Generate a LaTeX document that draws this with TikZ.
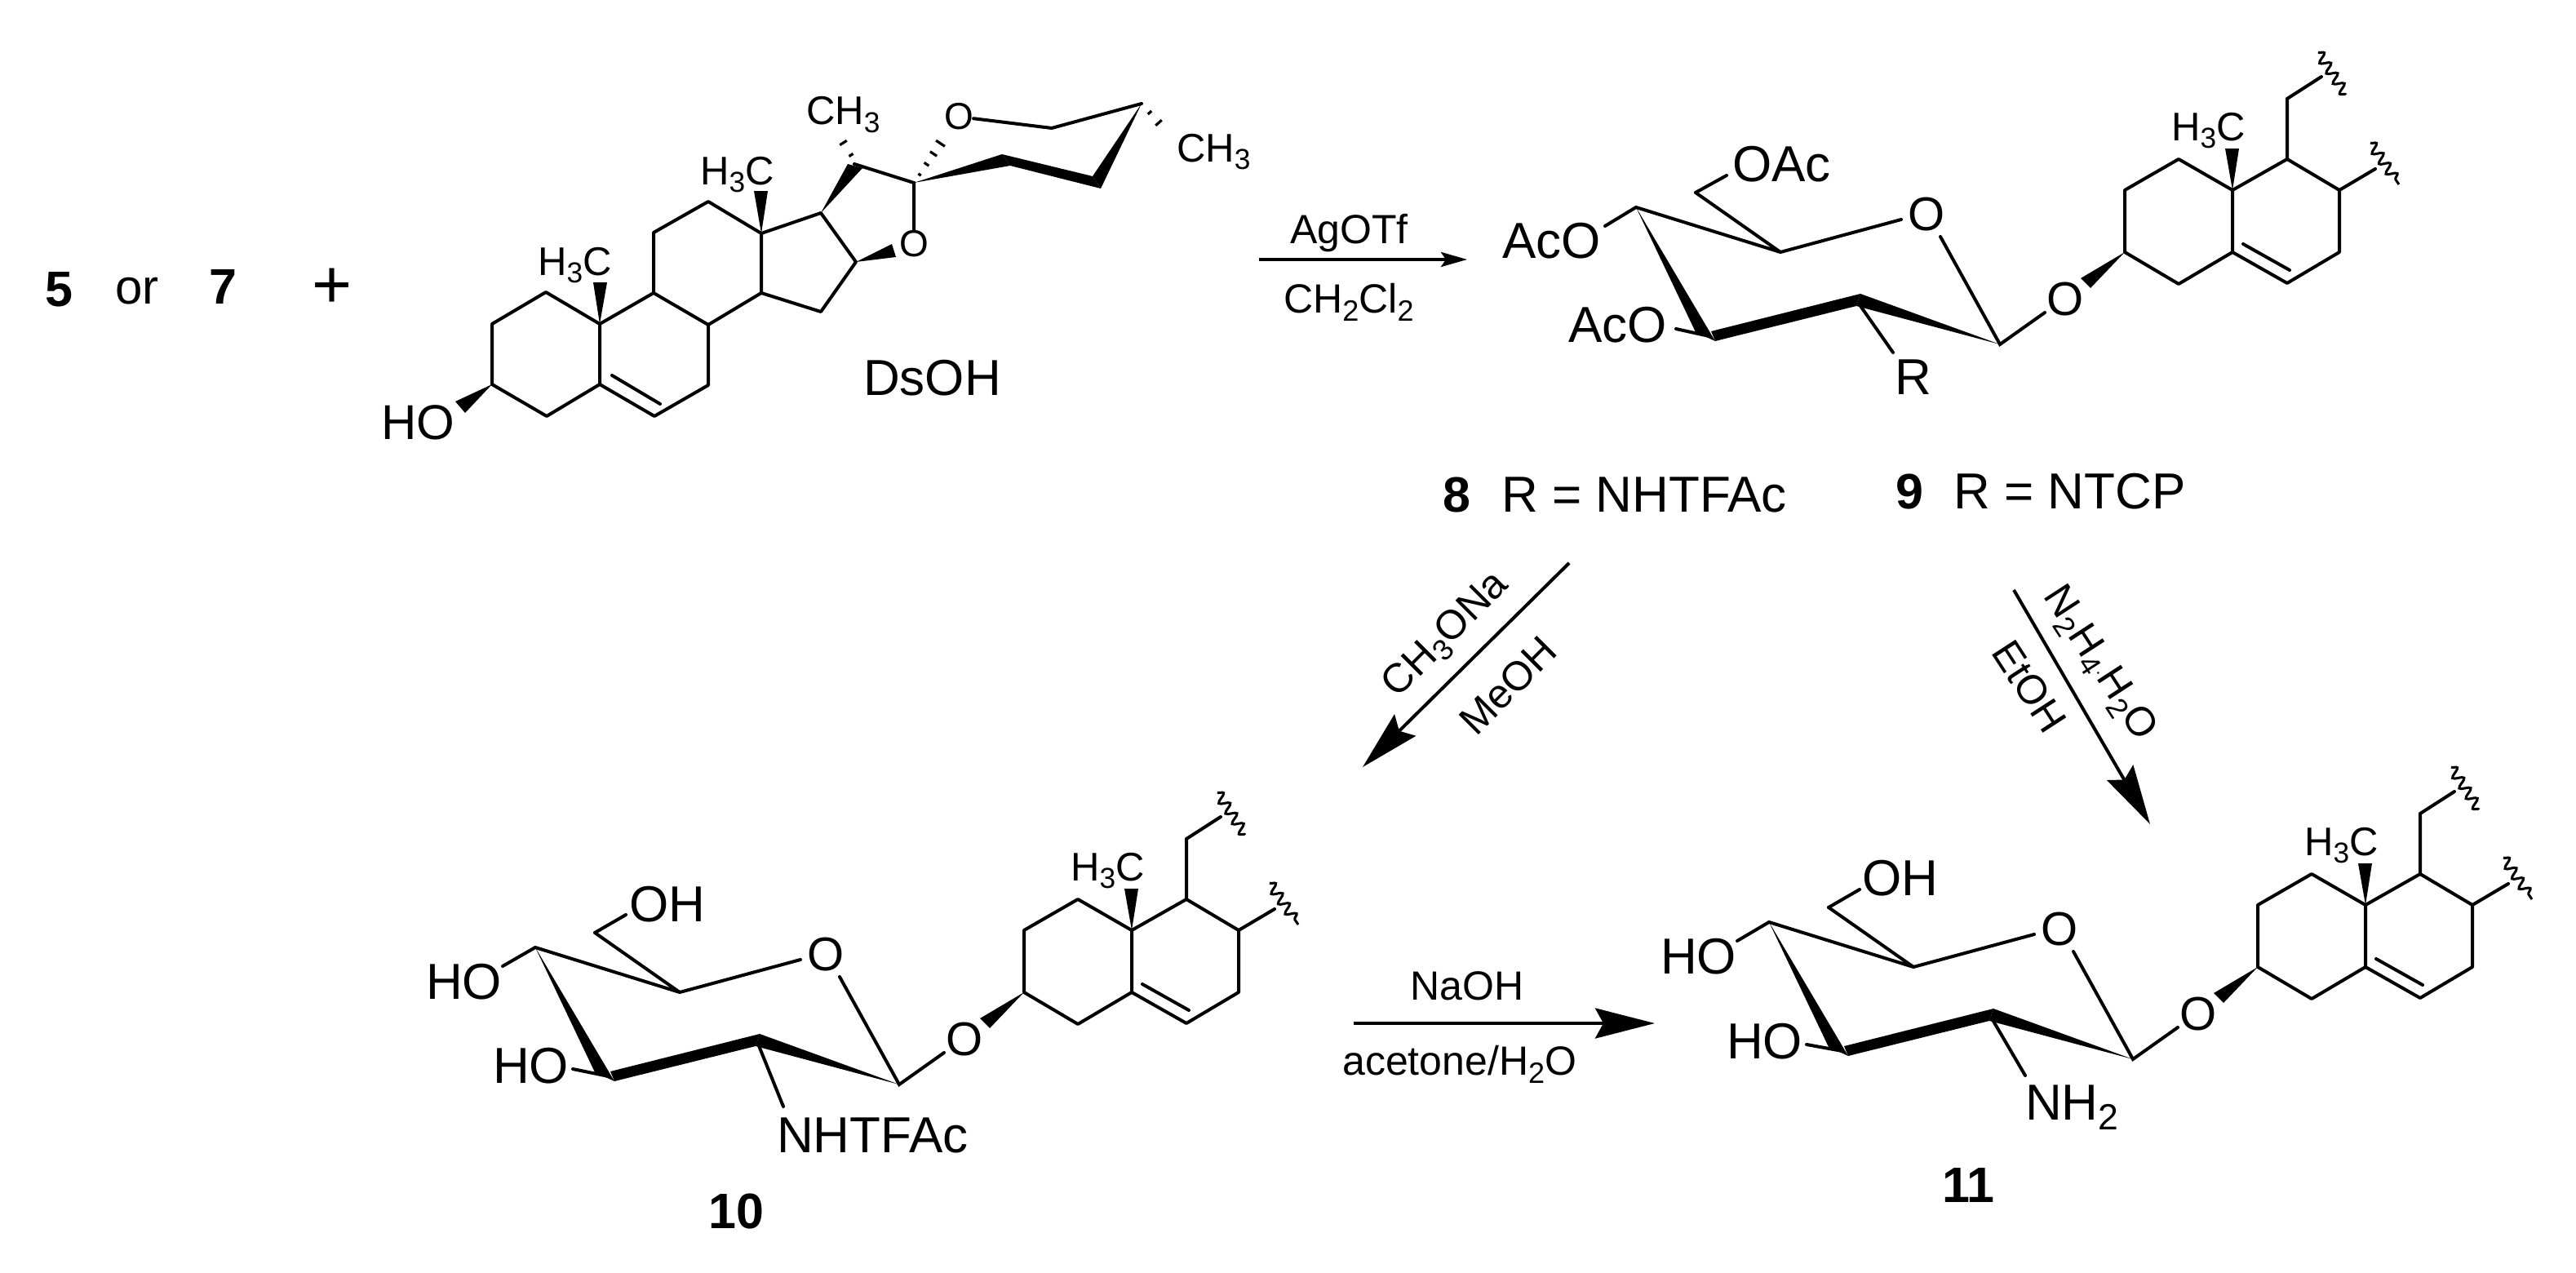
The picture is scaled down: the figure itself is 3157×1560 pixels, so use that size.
\documentclass[tikz,border=0pt]{standalone}
\usepackage{fontspec}
\setmainfont{Liberation Sans}
\usetikzlibrary{calc,arrows.meta,decorations.pathmorphing}
\newcommand\fsz[1]{\fontsize{#1}{#1}\selectfont}
\newcommand\sbt[1]{\raisebox{-.2em}{\scalebox{.72}{#1}}}
\tikzset{
  bond/.style={line width=4pt,line join=miter,line cap=round},
  hashb/.style={line width=3.2pt},
  wav/.style={line width=3pt,decorate,decoration={snake,segment length=15pt,amplitude=6pt}},
  atomlab/.style={font=\fsz{58},inner sep=0pt,anchor=center},
  txt/.style={font=\fsz{62},inner sep=0pt,anchor=base west},
  cnum/.style={font=\fsz{61}\bfseries,inner sep=0pt,anchor=base west},
  mel/.style={font=\fsz{49},inner sep=0pt,anchor=base west},
  reag/.style={font=\fsz{50},inner sep=0pt,anchor=base west},
  rreag/.style={font=\fsz{50},inner sep=0pt,anchor=center},
  rxn/.style={line width=4pt,-{Stealth[length=73pt,width=37pt,inset=10pt]}},
  rxnsmall/.style={line width=4pt,-{Stealth[length=32pt,width=18pt,inset=6pt]}}
}
% hashed wedge from a (narrow) to b (wide), list of fraction/half-width
\newcommand\hashw[3]{\foreach \t/\w in {#3}{\draw[hashb] ($(#1)!\t!(#2)!\w pt!90:(#2)$) -- ($(#1)!\t!(#2)!\w pt!-90:(#2)$);}}
% common sugar + steroid fragment, origin at sugar C4
\newcommand\glycoside[3]{%
\begin{scope}[shift={(#2,#3)},name prefix=#1-]
  \coordinate (c4) at (0,0); \coordinate (c5) at (177,55); \coordinate (c6) at (73,-18);
  \coordinate (c1) at (446,168); \coordinate (c2) at (273,118); \coordinate (c3) at (90,158);
  \coordinate (oa) at (325,15); \coordinate (ob) at (373,36); \coordinate (og) at (501,129);
  \coordinate (s3) at (599,55); \coordinate (s2) at (599,-21); \coordinate (s1) at (665,-59);
  \coordinate (s10) at (731,-21); \coordinate (s5) at (731,55); \coordinate (s4) at (665,94);
  \coordinate (s6) at (798,93); \coordinate (s7) at (862,55); \coordinate (s8) at (862,-21);
  \coordinate (s9) at (798,-59); \coordinate (ch) at (798,-133); \coordinate (che) at (840,-160);
  \coordinate (sd) at (906,-47); \coordinate (da) at (744,45); \coordinate (db) at (801,77);
  \coordinate (wa) at (836,-190); \coordinate (wb) at (870,-138);
  \coordinate (wc) at (900,-79); \coordinate (wd) at (935,-28);
  \node[atomlab] (oring) at (356,9) {O};
  \node[atomlab] (oglyc) at (526,113) {O};
  \node[mel] (me) at (656,-82) {H\sbt{3}C};
  \draw[bond] (c6) -- (c5) (c4) -- (c5) -- (oa);
  \draw[bond] (ob) -- (c1) -- (og);
  \fill (c4) -- (73,153) -- (97,164) -- cycle;
  \fill (97,164) -- (270,121) -- (275,106) -- (92,152) -- cycle;
  \fill (275,106) -- (270,121) -- (c1) -- cycle;
  \fill (s3) -- (545,87) -- (557,99) -- cycle;
  \draw[bond,line join=round] (s3) -- (s2) -- (s1) -- (s10) -- (s5) -- (s4) -- cycle;
  \draw[bond,line join=round] (s5) -- (s6) -- (s7) -- (s8) -- (s9) -- (s10);
  \draw[bond] (s9) -- (ch) -- (che) (s8) -- (sd) (da) -- (db);
  \fill (s10) -- (722,-72) -- (739,-72) -- cycle;
  \draw[wav] (wa) -- (wb);
  \draw[wav] (wc) -- (wd);
\end{scope}}
\begin{document}
\begin{tikzpicture}[x=1pt,y=-1pt]
\useasboundingbox (0,0) rectangle (3157,1560);
\fill[white] (0,0) rectangle (3157,1560);

% ----- left text
\node[cnum] (n5) at (55,375) {5};
\node[txt,font=\fsz{60}] (nor) at (141,372) {or};
\node[cnum] (n7) at (256,372) {7};
\node[inner sep=0pt,font=\fsz{84}] (plus) at (407,353) {+};

% ----- DsOH
\coordinate (a3) at (603,471); \coordinate (a2) at (603,397); \coordinate (a1) at (669,358);
\coordinate (a10) at (735,397); \coordinate (a5) at (735,471); \coordinate (a4) at (670,510);
\coordinate (a6) at (802,510); \coordinate (a7) at (868,472); \coordinate (a8) at (868,398);
\coordinate (a9) at (801,359); \coordinate (a11) at (801,285); \coordinate (a12) at (868,247);
\coordinate (a13) at (933,286); \coordinate (a14) at (933,359); \coordinate (a15) at (1006,382);
\coordinate (a16) at (1049,321); \coordinate (a17) at (1006,261); \coordinate (a20) at (1047,201);
\coordinate (a22) at (1120,224); \coordinate (a25) at (1399,127); \coordinate (a23) at (1289,157);
\coordinate (da1) at (750,460); \coordinate (da2) at (809,495);
\node[atomlab,font=\fsz{46}] (ofive) at (1120,299) {O};
\node[atomlab,font=\fsz{46}] (osix) at (1175,143) {O};
\node[txt] (dsoh) at (1058,484) {DsOH};
\node[txt,font=\fsz{60}] (ho) at (467,538) {HO};
\node[mel] (me1) at (659,337) {H\sbt{3}C};
\node[mel] (me2) at (858,226) {H\sbt{3}C};
\node[mel] (me3) at (988,153) {CH\sbt{3}};
\node[mel] (me4) at (1442,198) {CH\sbt{3}};
\draw[bond,line join=round] (a3) -- (a2) -- (a1) -- (a10) -- (a5) -- (a4) -- cycle;
\draw[bond,line join=round] (a5) -- (a6) -- (a7) -- (a8) -- (a9) -- (a10);
\draw[bond,line join=round] (a9) -- (a11) -- (a12) -- (a13) -- (a14) -- (a8);
\draw[bond,line join=round] (a14) -- (a15) -- (a16) -- (a17) -- (a13);
\draw[bond] (da1) -- (da2);
\draw[bond] (a20) -- (a22) -- (ofive);
\draw[bond] (osix) -- (a23) -- (a25);
\fill (a3) -- (558,492) -- (570,506) -- cycle;
\fill (a10) -- (727,346) -- (744,346) -- cycle;
\fill (a13) -- (924,234) -- (941,234) -- cycle;
\fill (a16) -- (1093,299) -- (1098,315) -- cycle;
\fill (a17) -- (1039,201) -- (1057,206) -- cycle;
\fill (a22) -- (1228,189) -- (1238,203) -- cycle;
\fill (1228,189) -- (1339,216) -- (1349,231) -- (1238,203) -- cycle;
\fill (a25) -- (1339,216) -- (1349,231) -- cycle;
\coordinate (h1a) at (1043,190); \coordinate (h1b) at (1024,160);
\hashw{h1a}{h1b}{0/3,.5/5,1/8}
\coordinate (h2a) at (1127,214); \coordinate (h2b) at (1161,163);
\hashw{h2a}{h2b}{0/2,.25/3.5,.5/5,.75/6.5,1/8}
\coordinate (h3a) at (1409,138); \coordinate (h3b) at (1431,163);
\hashw{h3a}{h3b}{0/3,.5/5,1/7}

% ----- compound 8/9
\glycoside{p}{2005}{254}
\node[txt] (p-ac4) at (1841,316) {AcO};
\node[txt] (p-ac3) at (1922,419) {AcO};
\node[txt] (p-ac6) at (2123,222) {OAc};
\node[txt] (p-r) at (2322,483) {R};
\coordinate (p-e4) at (1967,277); \coordinate (p-e3) at (2054,403);
\coordinate (p-e6) at (2116,215); \coordinate (p-er) at (2320,432);
\draw[bond] (p-c4) -- (p-e4) (p-c3) -- (p-e3) (p-c6) -- (p-e6) (p-c2) -- (p-er);
\node[cnum] (n8) at (1768,627) {8};
\node[txt] (r8) at (1840,627) {R = NHTFAc};
\node[cnum] (n9) at (2323,623) {9};
\node[txt] (r9) at (2394,623) {R = NTCP};

% ----- compound 10
\glycoside{q}{656}{1161}
\node[txt] (q-oh6) at (771,1129) {OH};
\node[txt] (q-ho4) at (522,1224) {HO};
\node[txt] (q-ho3) at (604,1327) {HO};
\node[txt] (q-n) at (952,1412) {NHTFAc};
\coordinate (q-e4) at (616,1184); \coordinate (q-e3) at (702,1310);
\coordinate (q-e6) at (767,1121); \coordinate (q-en) at (960,1356);
\draw[bond] (q-c4) -- (q-e4) (q-c3) -- (q-e3) (q-c6) -- (q-e6) (q-c2) -- (q-en);
\node[cnum] (n10) at (868,1505) {10};

% ----- compound 11
\glycoside{u}{2168}{1130}
\node[txt] (u-oh6) at (2282,1097) {OH};
\node[txt] (u-ho4) at (2035,1193) {HO};
\node[txt] (u-ho3) at (2116,1297) {HO};
\node[txt] (u-n) at (2482,1372) {NH\sbt{2}};
\coordinate (u-e4) at (2129,1153); \coordinate (u-e3) at (2214,1280);
\coordinate (u-e6) at (2279,1090); \coordinate (u-en) at (2482,1318);
\draw[bond] (u-c4) -- (u-e4) (u-c3) -- (u-e3) (u-c6) -- (u-e6) (u-c2) -- (u-en);
\node[cnum] (n11) at (2380,1473) {11};

% ----- reactions
\coordinate (r1a) at (1543,318); \coordinate (r1b) at (1798,318);
\draw[rxnsmall] (r1a) -- (r1b);
\node[reag] (agotf) at (1581,298) {AgOTf};
\node[reag] (dcm) at (1573,383) {CH\sbt{2}Cl\sbt{2}};

\coordinate (r2a) at (1923,690); \coordinate (r2b) at (1670,940);
\draw[rxn] (r2a) -- (r2b);
\node[rreag,rotate=45] (meona) at (1773,779) {CH\sbt{3}ONa};
\node[rreag,rotate=45] (meoh) at (1848,840) {MeOH};

\coordinate (r3a) at (2468,723); \coordinate (r3b) at (2635,1010);
\draw[rxn] (r3a) -- (r3b);
\node[rreag,rotate=-57] (hyd) at (2572,814) {N\sbt{2}H\sbt{4}$\cdot$H\sbt{2}O};
\node[rreag,rotate=-57] (etoh) at (2487,841) {EtOH};

\coordinate (r4a) at (1659,1254); \coordinate (r4b) at (2028,1254);
\draw[rxn] (r4a) -- (r4b);
\node[reag] (naoh) at (1728,1225) {NaOH};
\node[reag] (acet) at (1645,1317) {acetone/H\sbt{2}O};
\end{tikzpicture}
\end{document}
